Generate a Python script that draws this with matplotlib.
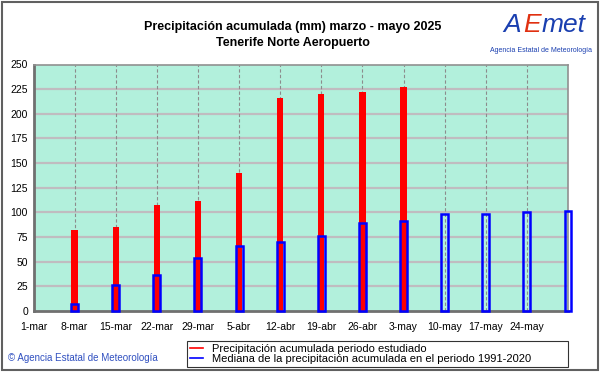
import matplotlib
matplotlib.use("Agg")
import matplotlib.pyplot as plt
import numpy as np
from matplotlib.lines import Line2D
from matplotlib.patches import Rectangle

plt.rcParams["font.family"] = ["Liberation Sans", "DejaVu Sans"]

# week labels (x positions 0..12), bars at weeks 1..13
week_labels = ["1-mar", "8-mar", "15-mar", "22-mar", "29-mar", "5-abr", "12-abr",
               "19-abr", "26-abr", "3-may", "10-may", "17-may", "24-may"]
# accumulated precipitation, studied period (mm)
obs_weeks = [1, 2, 3, 4, 5, 6, 7, 8, 9]
obs_acc = [82.5, 85.5, 108, 112, 140, 216, 220, 222, 227.5]
# median accumulated precipitation 1991-2020 (mm)
med_weeks = [1, 2, 3, 4, 5, 6, 7, 8, 9, 10, 11, 12, 13]
med_acc = [6.8, 26, 37, 54, 66, 70, 76.5, 89, 91.5, 98, 98.5, 100, 101.5]

fig = plt.figure(figsize=(6.01, 3.74), dpi=100)
fig.patch.set_facecolor("white")

ax = fig.add_axes([33.5 / 601, 1 - 311 / 374, (568 - 33.5) / 601, (311 - 64.5) / 374])
ax.set_facecolor("#b2f0dc")

# grid
for y in np.arange(25, 250, 25):
    ax.axhline(y, color="#c0bcc0", lw=1.6, zorder=1)
for x in range(1, 13):
    ax.axvline(x, color="#8c8c8c", lw=0.8, ls=(0, (3, 2)), zorder=1)

ax.bar(obs_weeks, obs_acc, width=0.155, color="#ff0000", zorder=3, clip_on=False)
ax.bar(med_weeks, med_acc, width=0.17, facecolor="none", edgecolor="#0000ff",
       lw=1.8, zorder=4, clip_on=False)

ax.set_xlim(0, 13)
ax.set_ylim(0, 250)
ax.set_yticks(np.arange(0, 251, 25))
ax.set_xticks(range(len(week_labels)))
ax.set_xticklabels(week_labels)
ax.tick_params(axis="both", length=0, labelsize=7.5, colors="black")
ax.tick_params(axis="x", pad=8)
ax.tick_params(axis="y", pad=4)
for side in ["left", "bottom"]:
    ax.spines[side].set_color("#707070")
    ax.spines[side].set_linewidth(2)
for side in ["top", "right"]:
    ax.spines[side].set_color("#909090")
    ax.spines[side].set_linewidth(1.2)

fig.text(0.487, 1 - 27 / 374, "Precipitación acumulada (mm) marzo - mayo 2025",
         ha="center", va="center", fontsize=9, fontweight="bold")
fig.text(0.487, 1 - 43 / 374, "Tenerife Norte Aeropuerto",
         ha="center", va="center", fontsize=9, fontweight="bold")

# logo (text approximation)
fig.text(503 / 601, 1 - 25 / 374, "A", ha="left", va="center", fontsize=19,
         style="italic", color="#1a3fb0")
fig.text(523 / 601, 1 - 25 / 374, "E", ha="left", va="center", fontsize=19,
         style="italic", color="#e03010")
fig.text(542 / 601, 1 - 25 / 374, "met", ha="left", va="center", fontsize=19,
         style="italic", color="#1a3fb0")
fig.text(541 / 601, 1 - 50 / 374, "Agencia Estatal de Meteorología", ha="center",
         va="center", fontsize=5, color="#1a3fb0")

fig.text(8 / 601, 1 - 358 / 374, "© Agencia Estatal de Meteorología", ha="left",
         va="center", fontsize=7, color="#3050c0")

handles = [Line2D([], [], color="#ff0000", lw=1.2),
           Line2D([], [], color="#0000ff", lw=1.2)]
labels = ["Precipitación acumulada periodo estudiado",
          "Mediana de la precipitación acumulada en el periodo 1991-2020"]
leg = fig.legend(handles, labels, loc="lower left",
                 bbox_to_anchor=(187 / 601, 1 - 367 / 374, (568 - 187) / 601, 30 / 374),
                 mode="expand", fontsize=8, frameon=True, fancybox=False,
                 edgecolor="black", handlelength=1.2, handletextpad=0.8,
                 borderaxespad=0, labelspacing=0.05, borderpad=0.25)
leg.get_frame().set_linewidth(0.8)

# outer frame
fig.add_artist(Rectangle((2 / 601, 4 / 374), 596 / 601, 368 / 374, transform=fig.transFigure,
                         fill=False, edgecolor="#606060", lw=1.5))

fig.savefig("out.png", dpi=100)
